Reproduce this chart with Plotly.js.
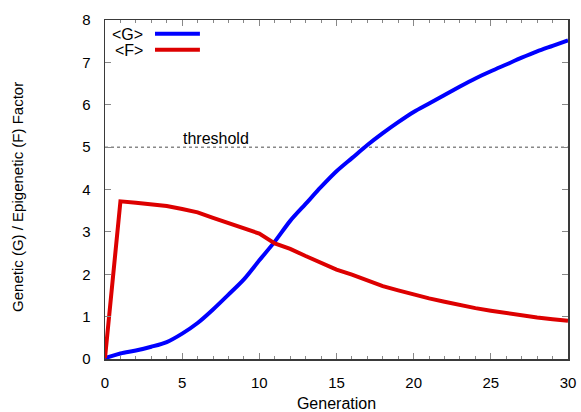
<!DOCTYPE html>
<html>
<head>
<meta charset="utf-8">
<script src="https://cdn.plot.ly/plotly-3.0.1.min.js"></script>
<style>
html,body{margin:0;padding:0;background:#fff;}
#chart{width:581px;height:412px;}
</style>
</head>
<body>
<div id="chart"></div>
<script>
var generations = [0,1,2,3,4,5,6,7,8,9,10,11,12,13,14,15,16,17,18,19,20,21,22,23,24,25,26,27,28,29,30];
var geneticG = [0.02,0.13,0.20,0.29,0.40,0.60,0.85,1.17,1.52,1.88,2.33,2.77,3.26,3.66,4.06,4.43,4.74,5.05,5.33,5.59,5.83,6.03,6.23,6.43,6.62,6.79,6.95,7.11,7.26,7.39,7.52];
var epigeneticF = [0.02,3.72,3.69,3.65,3.61,3.54,3.46,3.33,3.21,3.09,2.96,2.73,2.60,2.43,2.26,2.11,1.99,1.85,1.72,1.62,1.52,1.43,1.35,1.27,1.20,1.14,1.08,1.03,0.98,0.94,0.90];
var thresholdX = [0,30];
var thresholdY = [5,5];
var seriesNames = ['<G>','<F>'];
var thresholdLabel = 'threshold';
var xTitle = 'Generation';
var yTitle = 'Genetic (G) / Epigenetic (F) Factor';

var BLUE = 'rgb(0,0,255)';
var RED = 'rgb(221,0,0)';
var FONT = 'Liberation Sans, Arial, Helvetica, sans-serif';

function esc(s){return s.replace(/</g,'&lt;').replace(/>/g,'&gt;');}

var traces = [
  {x: thresholdX, y: thresholdY, mode:'lines', line:{color:'#888', width:1.5, dash:'dot'}, showlegend:false, hoverinfo:'skip'},
  {x: generations, y: geneticG, mode:'lines', name: seriesNames[0], line:{color:BLUE, width:4, shape:'spline', smoothing:0.8}, showlegend:false},
  {x: generations, y: epigeneticF, mode:'lines', name: seriesNames[1], line:{color:RED, width:4}, showlegend:false}
];

var layout = {
  width:581, height:412,
  margin:{l:105, r:13, t:20, b:53},
  paper_bgcolor:'#fff', plot_bgcolor:'#fff',
  font:{family:FONT, size:15, color:'#000'},
  showlegend:false,
  xaxis:{
    range:[0,30], dtick:5, tick0:0,
    ticks:'inside', ticklen:6, tickcolor:'#888', tickwidth:1,
    minor:{dtick:1, ticks:'inside', ticklen:3, tickcolor:'#888', tickwidth:1},
    showline:true, linecolor:'#3a3a3a', linewidth:1.5, mirror:'allticks',
    showgrid:false, zeroline:false, automargin:false,
    ticklabelstandoff:9,
    tickfont:{family:FONT, size:15, color:'#000'},
    title:{text:xTitle, font:{family:FONT, size:16, color:'#000'}, standoff:8}
  },
  yaxis:{
    range:[0,8], dtick:1, tick0:0,
    ticks:'inside', ticklen:6, tickcolor:'#888', tickwidth:1,
    showline:true, linecolor:'#3a3a3a', linewidth:1.5, mirror:'ticks',
    showgrid:false, zeroline:false, automargin:false,
    ticklabelstandoff:10,
    tickfont:{family:FONT, size:15, color:'#000'}
  },
  annotations:[
    {x:-0.188, y:0.478, xref:'paper', yref:'paper', text:yTitle, textangle:-90, showarrow:false, xanchor:'center', yanchor:'middle', font:{family:FONT, size:15, color:'#000'}},
    {x:7.2, y:thresholdY[0], xref:'x', yref:'y', text:thresholdLabel, showarrow:false, yanchor:'bottom', yshift:-2, font:{family:FONT, size:16, color:'#000'}},
    {x:0.0864, y:0.9568, xref:'paper', yref:'paper', text:esc(seriesNames[0]), showarrow:false, xanchor:'right', yanchor:'middle', font:{family:FONT, size:16, color:'#000'}},
    {x:0.0864, y:0.9096, xref:'paper', yref:'paper', text:esc(seriesNames[1]), showarrow:false, xanchor:'right', yanchor:'middle', font:{family:FONT, size:16, color:'#000'}}
  ],
  shapes:[
    {type:'line', xref:'paper', yref:'paper', x0:0.108, x1:0.205, y0:0.9598, y1:0.9598, line:{color:BLUE, width:4}},
    {type:'line', xref:'paper', yref:'paper', x0:0.108, x1:0.205, y0:0.9125, y1:0.9125, line:{color:RED, width:4}}
  ]
};

Plotly.newPlot('chart', traces, layout, {staticPlot:true, displayModeBar:false});
</script>
</body>
</html>
